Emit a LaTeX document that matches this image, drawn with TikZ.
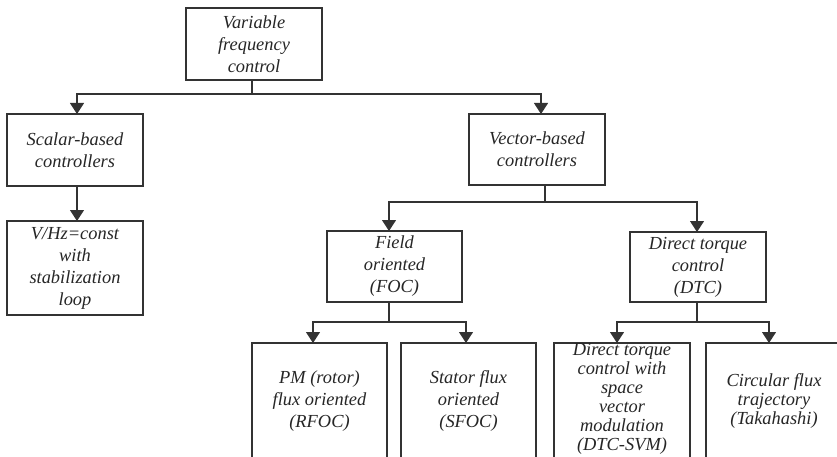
\documentclass[tikz,border=0pt]{standalone}
\usepackage{fontspec}
\setmainfont{Liberation Serif}
\usetikzlibrary{arrows.meta}
\begin{document}
\begin{tikzpicture}[x=1pt,y=-1pt,
  box/.style={draw=black!80, line width=1.2pt, fill=white, inner sep=0pt, outer sep=0pt,
    minimum width=136pt, text=black!85, align=center,
    font=\fontsize{18.4}{22}\selectfont\itshape},
  tight/.style={font=\fontsize{18.4}{19}\selectfont\itshape},
  conn/.style={draw=black!80, line width=1.2pt, -{Triangle[length=11pt,width=14pt]}}]
\useasboundingbox (0,0) rectangle (837,457);
\clip (0,0) rectangle (837,457);

% tree nodes
\node[box, minimum height=72pt] (root) at (254,44) {Variable\\frequency\\control};
\node[box, minimum height=72pt] (scalar) at (75,150) {Scalar-based\\controllers};
\node[box, minimum height=94pt] (vhz) at (75,268) {V/Hz=const\\with\\stabilization\\loop};
\node[box, minimum height=71pt] (vector) at (537,149.5) {Vector-based\\controllers};
\node[box, minimum width=135pt, minimum height=71pt] (foc) at (394.5,266.5) {Field\\oriented\\(FOC)};
\node[box, minimum height=70pt] (dtc) at (698,267) {Direct torque\\control\\(DTC)};
\node[box, minimum width=135pt, minimum height=116pt] (rfoc) at (319.5,401) {PM (rotor)\\flux oriented\\(RFOC)};
\node[box, minimum width=135pt, minimum height=116pt] (sfoc) at (468.5,401) {Stator flux\\oriented\\(SFOC)};
\node[box, minimum height=116pt] (svm) at (622,401) {};
\node[tight, text=black!85, align=center, inner sep=0pt] (svmtext) at (622,398.5)
  {Direct torque\\control with\\space\\vector\\modulation\\(DTC-SVM)};
\node[box, tight, minimum height=116pt] (taka) at (774,401) {Circular flux\\trajectory\\(Takahashi)};

% connectors
\draw[conn] ([xshift=-2pt]root.south) -- ++(0,14) -| ([xshift=2pt]scalar.north);
\draw[conn] ([xshift=-2pt]root.south) -- ++(0,14) -| ([xshift=4pt]vector.north);
\draw[conn] ([xshift=2pt]scalar.south) -- ([xshift=2pt]vhz.north);
\draw[conn] ([xshift=8pt]vector.south) -- ++(0,17) -| ([xshift=-5.5pt]foc.north);
\draw[conn] ([xshift=8pt]vector.south) -- ++(0,17) -| ([xshift=-1pt]dtc.north);
\draw[conn] ([xshift=-5.5pt]foc.south) -- ++(0,20) -| ([xshift=-6.5pt]rfoc.north);
\draw[conn] ([xshift=-5.5pt]foc.south) -- ++(0,20) -| ([xshift=-2.5pt]sfoc.north);
\draw[conn] ([xshift=-1pt]dtc.south) -- ++(0,20) -| ([xshift=-5pt]svm.north);
\draw[conn] ([xshift=-1pt]dtc.south) -- ++(0,20) -| ([xshift=-5pt]taka.north);
\end{tikzpicture}
\end{document}
